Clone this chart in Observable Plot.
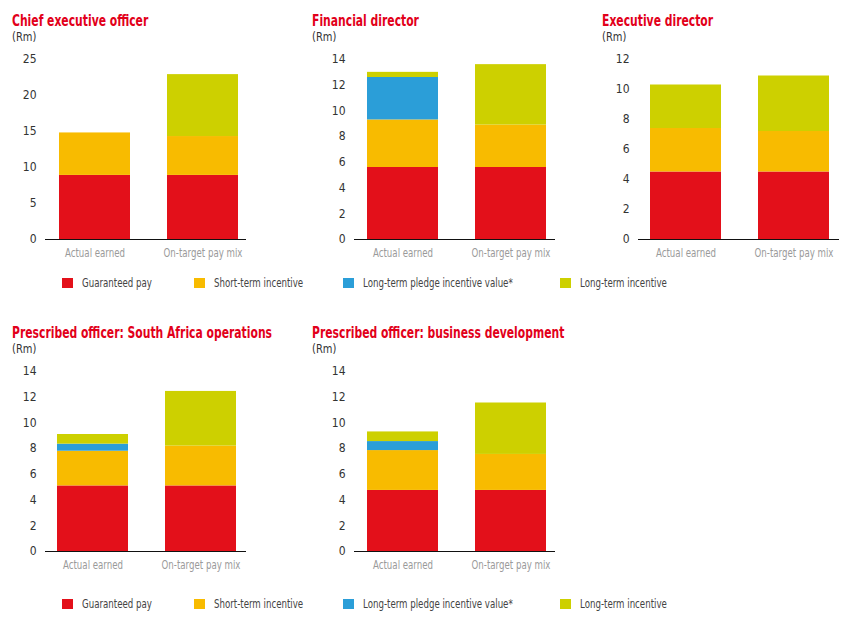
<!DOCTYPE html>
<html>
<head>
<meta charset="utf-8">
<script src="https://cdn.jsdelivr.net/npm/d3@7"></script>
<script src="https://cdn.jsdelivr.net/npm/@observablehq/plot@0.6"></script>
<style>
  html, body { margin: 0; padding: 0; background: #fff; }
  #root { position: relative; width: 851px; height: 621px; overflow: hidden;
          font-family: "DejaVu Sans Condensed", "DejaVu Sans", sans-serif; }
  .title { position: absolute; color: #e2001a; font-weight: bold; font-size: 15px; white-space: nowrap;
           transform: scaleX(0.8); transform-origin: 0 50%; }
  .unit { position: absolute; color: #333; font-size: 12px; white-space: nowrap;
          transform: scaleX(0.92); transform-origin: 0 50%; }
  .chart { position: absolute; }
  .legend { position: absolute; height: 12px; }
  .legend .item { position: absolute; top: 0; white-space: nowrap; font-size: 12px; color: #444; line-height: 11px;
                  transform: scaleX(0.8); transform-origin: 0 50%; }
  .legend .sw { position: absolute; top: 0; width: 11px; height: 10px; }
</style>
</head>
<body>
<div id="root"></div>
<script>
// ---- data ----
const categories = ["Actual earned", "On-target pay mix"];
const components = ["Guaranteed pay", "Short-term incentive", "Long-term pledge incentive value*", "Long-term incentive"];
const colors = ["#e3101a", "#f8bb00", "#2b9ed8", "#cdd000"];

const titles = [
  "Chief executive officer",
  "Financial director",
  "Executive director",
  "Prescribed officer: South Africa operations",
  "Prescribed officer: business development"
];
const unitLabel = "(Rm)";

// component values (Rm) in order of components
const ceoActual = [8.9, 5.9, 0, 0];
const ceoTarget = [8.9, 5.4, 0, 8.6];
const fdActual  = [5.6, 3.7, 3.3, 0.4];
const fdTarget  = [5.6, 3.3, 0, 4.7];
const edActual  = [4.5, 2.9, 0, 2.9];
const edTarget  = [4.5, 2.7, 0, 3.7];
const saActual  = [5.1, 2.7, 0.55, 0.75];
const saTarget  = [5.1, 3.1, 0, 4.25];
const bdActual  = [4.75, 3.1, 0.7, 0.75];
const bdTarget  = [4.75, 2.8, 0, 4.0];

const ticks25 = [0, 5, 10, 15, 20, 25];
const ticks14 = [0, 2, 4, 6, 8, 10, 12, 14];
const ticks12 = [0, 2, 4, 6, 8, 10, 12];

const panelData = [
  {actual: ceoActual, target: ceoTarget, max: 25, ticks: ticks25},
  {actual: fdActual,  target: fdTarget,  max: 14, ticks: ticks14},
  {actual: edActual,  target: edTarget,  max: 12, ticks: ticks12},
  {actual: saActual,  target: saTarget,  max: 14, ticks: ticks14},
  {actual: bdActual,  target: bdTarget,  max: 14, ticks: ticks14}
];

// ---- layout (positions in page pixels) ----
const layout = [
  {left: 0,   top: 0,   width: 260, ml: 45, mr: 14, align: 0.64},
  {left: 300, top: 0,   width: 265, ml: 54, mr: 10, align: 0.58},
  {left: 590, top: 0,   width: 261, ml: 48, mr: 12, align: 0.55},
  {left: 0,   top: 312, width: 260, ml: 45, mr: 14, align: 0.55},
  {left: 300, top: 312, width: 265, ml: 54, mr: 10, align: 0.58}
];

const root = document.getElementById("root");

function rows(p) {
  const out = [];
  [p.actual, p.target].forEach((vals, ci) => {
    vals.forEach((v, k) => {
      if (v > 0) out.push({category: categories[ci], component: components[k], value: v});
    });
  });
  return out;
}

panelData.forEach((p, i) => {
  const L = layout[i];
  const t = document.createElement("div");
  t.className = "title";
  t.style.left = (L.left + 12) + "px";
  t.style.top = (L.top + 12) + "px";
  t.textContent = titles[i];
  root.appendChild(t);

  const u = document.createElement("div");
  u.className = "unit";
  u.style.left = (L.left + 12) + "px";
  u.style.top = (L.top + 30) + "px";
  u.textContent = unitLabel;
  root.appendChild(u);

  const chart = Plot.plot({
    width: L.width,
    height: 222,
    marginLeft: L.ml,
    marginRight: L.mr,
    marginTop: 14,
    marginBottom: 28,
    style: {fontFamily: '"DejaVu Sans Condensed", "DejaVu Sans", sans-serif', background: "transparent"},
    x: {domain: categories, paddingInner: 0.346, paddingOuter: 0.1, align: L.align},
    y: {domain: [0, p.max]},
    color: {domain: components, range: colors},
    marks: [
      Plot.barY(rows(p), {x: "category", y: "value", fill: "component", inset: 0}),
      Plot.ruleY([0], {stroke: "#111", strokeWidth: 1.2}),
      Plot.axisY({ticks: p.ticks, tickSize: 0, tickPadding: 9, fontSize: 12, color: "#333", label: null}),
      Plot.axisX({tickSize: 0, tickPadding: 9, fontSize: 12, color: "#9a9a9a", label: null})
    ]
  });
  // condense the category labels to match the narrow typeface of the original
  d3.select(chart).selectAll('g[aria-label="x-axis tick label"] text').each(function() {
    const tr = this.getAttribute("transform") || "";
    this.setAttribute("transform", tr + " scale(0.8,1)");
  });
  chart.classList.add("chart");
  chart.style.left = L.left + "px";
  chart.style.top = (L.top + 45) + "px";
  root.appendChild(chart);
});

// legends
const legendRows = [278, 599];
const legendX = [62, 194, 343, 560];
legendRows.forEach(y => {
  const lg = document.createElement("div");
  lg.className = "legend";
  lg.style.left = "0px";
  lg.style.top = y + "px";
  components.forEach((c, k) => {
    const sw = document.createElement("div");
    sw.className = "sw";
    sw.style.left = legendX[k] + "px";
    sw.style.background = colors[k];
    lg.appendChild(sw);
    const it = document.createElement("div");
    it.className = "item";
    it.style.left = (legendX[k] + 20) + "px";
    it.textContent = c;
    lg.appendChild(it);
  });
  root.appendChild(lg);
});
</script>
</body>
</html>
